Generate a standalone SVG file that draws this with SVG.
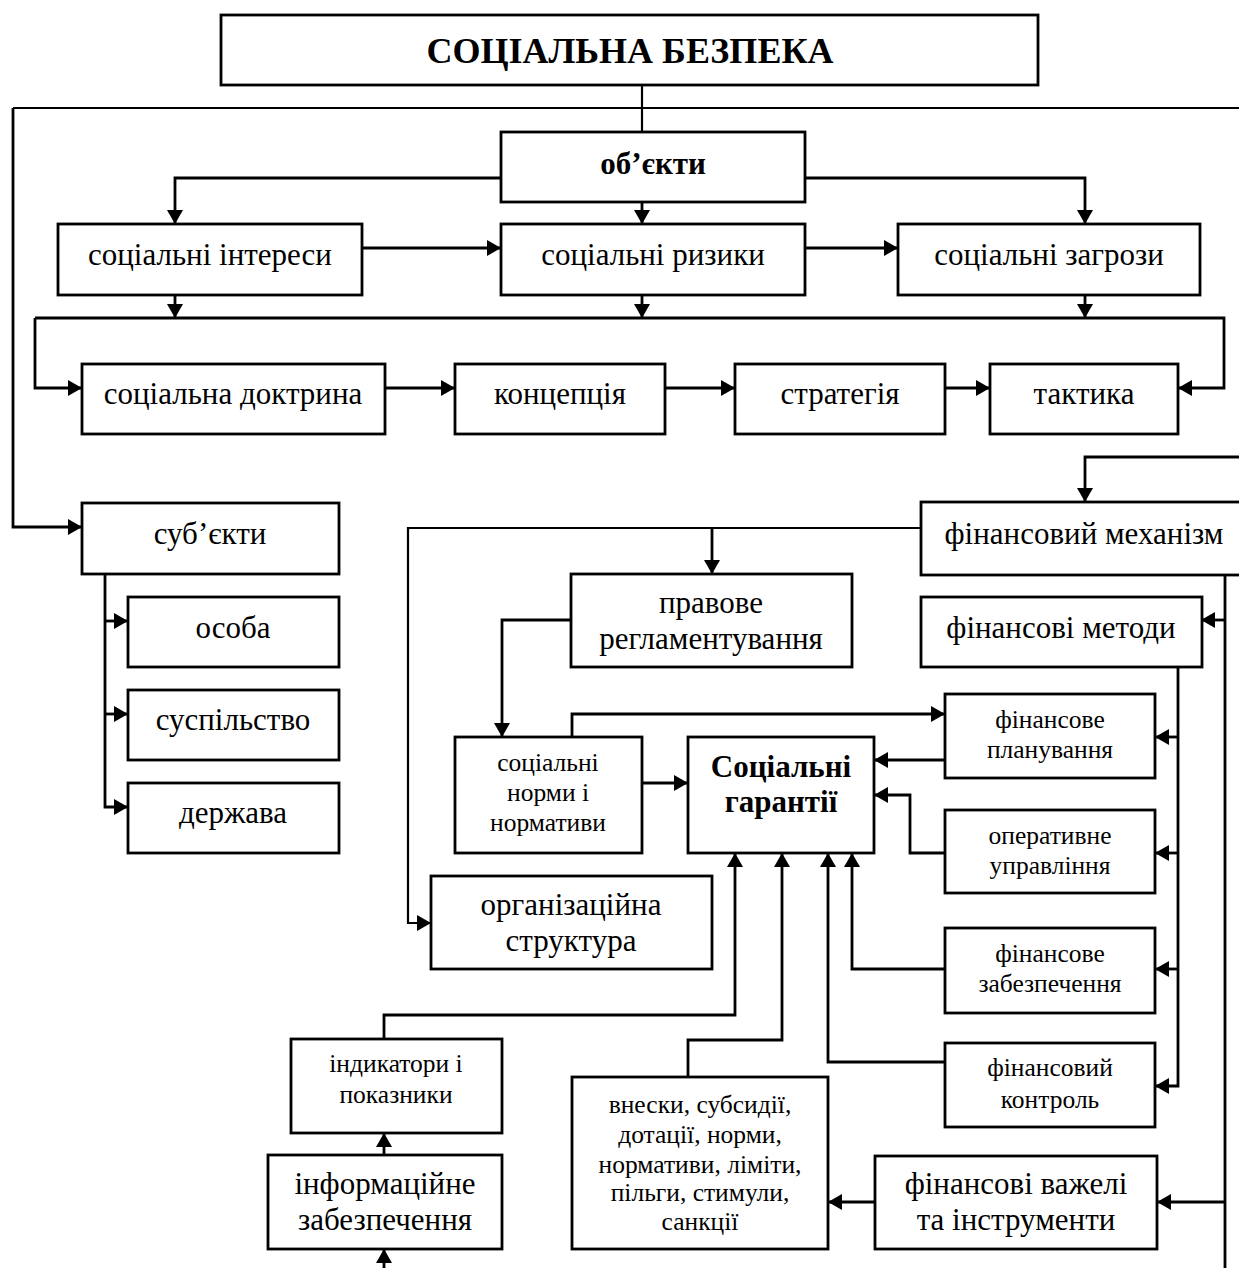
<svg xmlns="http://www.w3.org/2000/svg" width="1239" height="1268" viewBox="0 0 1239 1268">
<style>
.box{fill:#fff;stroke:#000;stroke-width:2.8}
.t{font-family:"Liberation Serif","Times New Roman",serif;font-size:31px;text-anchor:middle;fill:#000}
.s{font-family:"Liberation Serif","Times New Roman",serif;font-size:25.5px;text-anchor:middle;fill:#000}
.b{font-weight:bold}
.c{fill:none;stroke:#000;stroke-width:2.8}
.thin{fill:none;stroke:#000;stroke-width:2.2}
.a{marker-end:url(#ah)}
</style>
<defs>
<marker id="ah" markerUnits="userSpaceOnUse" markerWidth="15" markerHeight="16" refX="14" refY="8" orient="auto">
<path d="M0,0 L14,8 L0,16 z" fill="#000"/>
</marker>
</defs>
<rect width="1239" height="1268" fill="#fff"/>
<g id="connectors">
<path class="thin" d="M642,85 V132"/>
<path class="thin" d="M1239,108 H13"/>
<path class="c a" d="M13,108 V527 H82"/>
<path class="c a" d="M501,178 H175 V224"/>
<path class="c a" d="M805,178 H1085 V224"/>
<path class="c a" d="M642,202 V224"/>
<path class="c a" d="M362,248 H501"/>
<path class="c a" d="M805,248 H898"/>
<path class="c a" d="M175,295 V318"/>
<path class="c a" d="M642,295 V318"/>
<path class="c a" d="M1085,295 V318"/>
<path class="c a" d="M35,318 H1224 V388 H1178"/>
<path class="c a" d="M35,318 V388 H82"/>
<path class="c a" d="M385,388 H455"/>
<path class="c a" d="M665,388 H735"/>
<path class="c a" d="M945,388 H990"/>
<path class="c a" d="M1239,457 H1085 V502"/>
<path class="thin a" d="M921,528 H408 V923 H431"/>
<path class="c a" d="M712,528 V574"/>
<path class="c" d="M1225,575 V1268"/>
<path class="c a" d="M1225,620 H1201"/>
<path class="c a" d="M1225,1202 H1157"/>
<path class="c a" d="M1178,667 V1086 H1155"/>
<path class="c a" d="M1178,737 H1155"/>
<path class="c a" d="M1178,853 H1155"/>
<path class="c a" d="M1178,969 H1155"/>
<path class="c a" d="M105,574 V807 H128"/>
<path class="c a" d="M105,621 H128"/>
<path class="c a" d="M105,714 H128"/>
<path class="c a" d="M571,620 H502 V737"/>
<path class="c a" d="M572,737 V714 H945"/>
<path class="c a" d="M642,783 H688"/>
<path class="c a" d="M945,760 H874"/>
<path class="c a" d="M945,853 H910 V795 H874"/>
<path class="c a" d="M945,969 H852 V853"/>
<path class="c a" d="M945,1062 H828 V853"/>
<path class="c a" d="M688,1077 V1040 H782 V853"/>
<path class="c a" d="M384,1039 V1015 H735 V853"/>
<path class="c a" d="M384,1155 V1133"/>
<path class="c a" d="M384,1268 V1249"/>
<path class="c a" d="M875,1202 H828"/>
</g>
<g id="n-title"><rect class="box" x="221" y="15" width="817" height="70"/><text class="t b" x="630" y="63" style="font-size:36px">СОЦІАЛЬНА БЕЗПЕКА</text></g>
<g id="n-objects"><rect class="box" x="501" y="132" width="304" height="70"/><text class="t b" x="653" y="174">об’єкти</text></g>
<g id="n-interests"><rect class="box" x="58" y="224" width="304" height="71"/><text class="t" x="210" y="265">соціальні інтереси</text></g>
<g id="n-risks"><rect class="box" x="501" y="224" width="304" height="71"/><text class="t" x="653" y="265">соціальні ризики</text></g>
<g id="n-threats"><rect class="box" x="898" y="224" width="302" height="71"/><text class="t" x="1049" y="265">соціальні загрози</text></g>
<g id="n-doctrine"><rect class="box" x="82" y="364" width="303" height="70"/><text class="t" x="233" y="404">соціальна доктрина</text></g>
<g id="n-concept"><rect class="box" x="455" y="364" width="210" height="70"/><text class="t" x="560" y="404">концепція</text></g>
<g id="n-strategy"><rect class="box" x="735" y="364" width="210" height="70"/><text class="t" x="840" y="404">стратегія</text></g>
<g id="n-tactics"><rect class="box" x="990" y="364" width="188" height="70"/><text class="t" x="1084" y="404">тактика</text></g>
<g id="n-subjects"><rect class="box" x="82" y="503" width="257" height="71"/><text class="t" x="210" y="544">суб’єкти</text></g>
<g id="n-finmech"><rect class="box" x="921" y="502" width="330" height="73"/><text class="t" x="1084" y="544">фінансовий механізм</text></g>
<g id="n-person"><rect class="box" x="128" y="597" width="211" height="70"/><text class="t" x="233" y="638">особа</text></g>
<g id="n-society"><rect class="box" x="128" y="690" width="211" height="70"/><text class="t" x="233" y="730">суспільство</text></g>
<g id="n-state"><rect class="box" x="128" y="783" width="211" height="70"/><text class="t" x="233" y="823">держава</text></g>
<g id="n-legal"><rect class="box" x="571" y="574" width="281" height="93"/><text class="t" x="711" y="613">правове</text><text class="t" x="711" y="649">регламентування</text></g>
<g id="n-finmethods"><rect class="box" x="921" y="597" width="281" height="70"/><text class="t" x="1061" y="638">фінансові методи</text></g>
<g id="n-planning"><rect class="box" x="945" y="694" width="210" height="84"/><text class="s" x="1050" y="728">фінансове</text><text class="s" x="1050" y="758">планування</text></g>
<g id="n-norms"><rect class="box" x="455" y="737" width="187" height="116"/><text class="s" x="548" y="771">соціальні</text><text class="s" x="548" y="801">норми і</text><text class="s" x="548" y="831">нормативи</text></g>
<g id="n-guarantees"><rect class="box" x="688" y="737" width="186" height="116"/><text class="t b" x="781" y="777">Соціальні</text><text class="t b" x="781" y="812">гарантії</text></g>
<g id="n-operative"><rect class="box" x="945" y="810" width="210" height="83"/><text class="s" x="1050" y="844">оперативне</text><text class="s" x="1050" y="874">управління</text></g>
<g id="n-orgstruct"><rect class="box" x="431" y="876" width="281" height="93"/><text class="t" x="571" y="915">організаційна</text><text class="t" x="571" y="951">структура</text></g>
<g id="n-provision"><rect class="box" x="945" y="928" width="210" height="85"/><text class="s" x="1050" y="962">фінансове</text><text class="s" x="1050" y="992">забезпечення</text></g>
<g id="n-indicators"><rect class="box" x="291" y="1039" width="211" height="94"/><text class="s" x="396" y="1072">індикатори і</text><text class="s" x="396" y="1103">показники</text></g>
<g id="n-control"><rect class="box" x="945" y="1043" width="210" height="84"/><text class="s" x="1050" y="1076">фінансовий</text><text class="s" x="1050" y="1108">контроль</text></g>
<g id="n-contrib"><rect class="box" x="572" y="1077" width="256" height="172"/><text class="s" x="700" y="1113">внески, субсидії,</text><text class="s" x="700" y="1143">дотації, норми,</text><text class="s" x="700" y="1173">нормативи, ліміти,</text><text class="s" x="700" y="1201">пільги, стимули,</text><text class="s" x="700" y="1230">санкції</text></g>
<g id="n-levers"><rect class="box" x="875" y="1156" width="282" height="93"/><text class="t" x="1016" y="1194">фінансові важелі</text><text class="t" x="1016" y="1230">та інструменти</text></g>
<g id="n-info"><rect class="box" x="268" y="1155" width="234" height="94"/><text class="t" x="385" y="1194">інформаційне</text><text class="t" x="385" y="1230">забезпечення</text></g>
</svg>
